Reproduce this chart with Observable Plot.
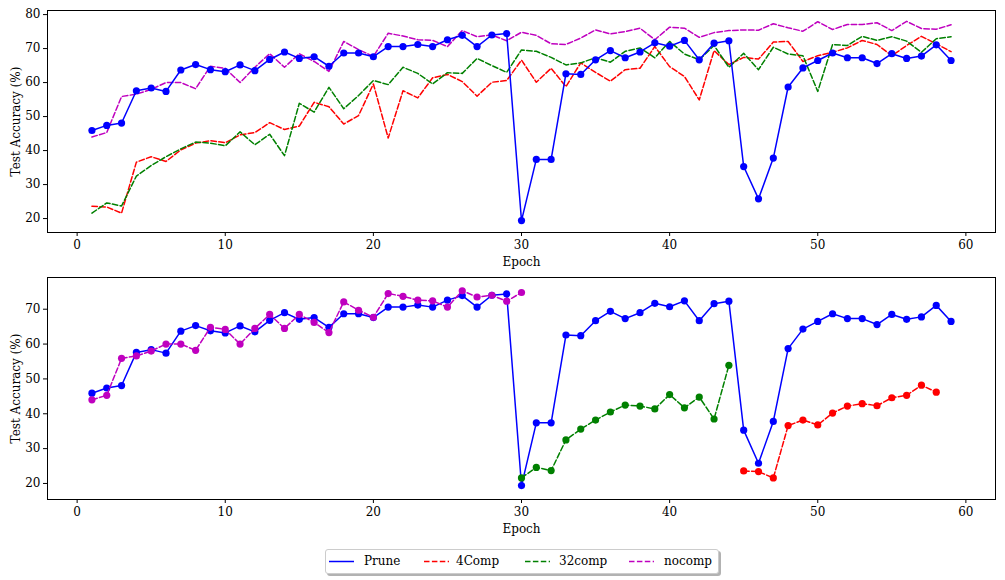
<!DOCTYPE html>
<html>
<head>
<meta charset="utf-8">
<script src="https://cdn.jsdelivr.net/npm/d3@7"></script>
<script src="https://cdn.jsdelivr.net/npm/@observablehq/plot@0.6"></script>
<style>
  body { margin: 0; background: #fff; }
  #wrap { position: relative; width: 1005px; height: 580px; font-family: "DejaVu Serif", serif; }
  .panel { position: absolute; left: 0; }
  #legend { position: absolute; left: 325px; top: 549px; width: 392px; height: 23px; background: #fff;
            border: 1px solid #cccccc; border-radius: 3px; box-shadow: 2px 2px 0 rgba(0,0,0,0.3); font-size: 12px; color: #000; }
  .li { position: absolute; top: 0; height: 23px; line-height: 23px; }
  .ls { position: absolute; top: 11px; }
</style>
</head>
<body>
<div id="wrap">
  <div id="top" class="panel" style="top:0px"></div>
  <div id="bottom" class="panel" style="top:267px"></div>
  <div id="legend"></div>
</div>
<script>
// ---- data ----
const epochs = [1,2,3,4,5,6,7,8,9,10,11,12,13,14,15,16,17,18,19,20,21,22,23,24,25,26,27,28,29,30,
                31,32,33,34,35,36,37,38,39,40,41,42,43,44,45,46,47,48,49,50,51,52,53,54,55,56,57,58,59];

const prune = [45.9,47.4,48.1,57.6,58.4,57.4,63.7,65.3,63.8,63.2,65.2,63.5,66.8,69.0,67.1,
               67.6,64.8,68.7,68.7,67.6,70.6,70.6,71.2,70.6,72.6,73.9,70.6,74.0,74.4,19.4,
               37.4,37.4,62.6,62.4,66.7,69.4,67.3,69.0,71.7,70.7,72.4,66.7,71.6,72.3,35.3,
               25.8,37.8,58.7,64.3,66.5,68.7,67.3,67.3,65.6,68.5,67.1,67.8,71.1,66.5];

const comp4 = [23.6,23.4,21.6,36.6,38.2,36.8,40.2,42.2,42.9,42.3,44.6,45.3,48.2,46.2,47.2,
               54.2,52.9,47.8,50.3,59.6,43.7,57.6,55.5,61.4,62.4,60.3,56.0,60.1,60.6,66.6,
               60.1,64.2,58.8,65.8,63.0,60.4,63.8,64.2,70.6,64.7,61.8,54.9,69.4,65.3,67.4,
               66.9,71.9,72.1,66.2,67.9,68.9,70.2,72.4,71.2,67.9,70.9,73.6,71.4,69.1];

const comp32 = [21.6,24.6,23.7,32.5,35.6,38.2,40.5,42.5,42.2,41.4,45.5,41.7,44.8,38.5,53.9,
                51.3,58.6,52.3,56.2,60.6,59.4,64.5,62.7,59.6,62.9,62.7,67.1,65.0,63.0,69.6,
                69.2,67.4,65.2,65.8,67.3,66.0,69.2,70.2,67.3,72.1,68.4,66.7,70.9,64.5,68.6,
                63.8,70.4,68.4,67.9,57.4,71.2,70.9,73.6,72.4,73.5,72.2,68.9,72.9,73.5];

const nocomp = [44.0,45.3,55.9,56.6,58.0,60.0,60.0,58.2,64.8,64.2,60.0,64.5,68.5,64.5,68.5,
                66.2,63.3,72.1,69.7,67.7,74.5,73.7,72.6,72.4,70.6,75.3,73.5,74.0,72.3,74.8,
                73.9,71.4,71.2,73.1,75.5,74.3,75.0,76.0,72.6,76.3,76.0,73.3,74.7,75.3,75.5,
                75.4,77.3,76.1,75.1,77.9,75.6,77.1,77.1,77.6,75.3,78.0,75.9,75.7,77.0];

// bottom panel: each compressed run placed after Prune's stages
const bottomNocompStart = 1, bottomNocompCount = 30;
const bottomComp32Start = 30, bottomComp32Count = 15;
const bottomComp4Start = 45, bottomComp4Count = 14;

const seriesNames = ["Prune", "4Comp", "32comp", "nocomp"];
const seriesColors = ["#0000ff", "#ff0000", "#008000", "#bf00bf"];
const xTicks = [0, 10, 20, 30, 40, 50, 60];
const yTicksTop = [20, 30, 40, 50, 60, 70, 80];
const yTicksBottom = [20, 30, 40, 50, 60, 70];

// ---- build ----
const rows = (vals, start) => vals.map((v, i) => ({epoch: epochs[i] + start - 1, value: v}));
const dash = "5.5,2.4";
const common = {
  width: 1005, height: 273, marginLeft: 47, marginRight: 10, marginTop: 10, marginBottom: 41,
  style: {fontFamily: "DejaVu Serif, serif", fontSize: "12px", background: "transparent", overflow: "visible"},
};

const xAxis = () => Plot.axisX({ticks: xTicks, tickSize: 4, tickPadding: 4, label: "Epoch",
  labelAnchor: "center", labelArrow: "none", labelOffset: 33});
const yAxis = (t) => Plot.axisY({ticks: t, tickSize: 4, tickPadding: 3, label: "Test Accuracy (%)",
  labelAnchor: "center", labelArrow: "none", labelOffset: 36});

const topPlot = Plot.plot({
  ...common,
  x: {domain: [-2.0, 62.0]},
  y: {domain: [15.9, 81.2]},
  marks: [
    Plot.line(rows(comp4, 1), {x: "epoch", y: "value", stroke: seriesColors[1], strokeWidth: 1.5, strokeDasharray: dash}),
    Plot.line(rows(comp32, 1), {x: "epoch", y: "value", stroke: seriesColors[2], strokeWidth: 1.5, strokeDasharray: dash}),
    Plot.line(rows(nocomp, 1), {x: "epoch", y: "value", stroke: seriesColors[3], strokeWidth: 1.5, strokeDasharray: dash}),
    Plot.line(rows(prune, 1), {x: "epoch", y: "value", stroke: seriesColors[0], strokeWidth: 1.5}),
    Plot.dot(rows(prune, 1), {x: "epoch", y: "value", fill: seriesColors[0], r: 3.6}),
    xAxis(), yAxis(yTicksTop),
    Plot.frame({stroke: "#000", strokeWidth: 1})
  ]
});

const bNo = rows(nocomp.slice(0, bottomNocompCount), bottomNocompStart);
const b32 = rows(comp32.slice(0, bottomComp32Count), bottomComp32Start);
const b4 = rows(comp4.slice(0, bottomComp4Count), bottomComp4Start);
const bottomPlot = Plot.plot({
  ...common,
  x: {domain: [-2.0, 62.0]},
  y: {domain: [15.4, 79.1]},
  marks: [
    Plot.line(prune.map((v, i) => ({epoch: epochs[i], value: v})), {x: "epoch", y: "value", stroke: seriesColors[0], strokeWidth: 1.5}),
    Plot.dot(prune.map((v, i) => ({epoch: epochs[i], value: v})), {x: "epoch", y: "value", fill: seriesColors[0], r: 3.6}),
    Plot.line(bNo, {x: "epoch", y: "value", stroke: seriesColors[3], strokeWidth: 1.5, strokeDasharray: dash}),
    Plot.dot(bNo, {x: "epoch", y: "value", fill: seriesColors[3], r: 3.6}),
    Plot.line(b32, {x: "epoch", y: "value", stroke: seriesColors[2], strokeWidth: 1.5, strokeDasharray: dash}),
    Plot.dot(b32, {x: "epoch", y: "value", fill: seriesColors[2], r: 3.6}),
    Plot.line(b4, {x: "epoch", y: "value", stroke: seriesColors[1], strokeWidth: 1.5, strokeDasharray: dash}),
    Plot.dot(b4, {x: "epoch", y: "value", fill: seriesColors[1], r: 3.6}),
    xAxis(), yAxis(yTicksBottom),
    Plot.frame({stroke: "#000", strokeWidth: 1})
  ]
});

document.getElementById("top").appendChild(topPlot);
document.getElementById("bottom").appendChild(bottomPlot);

// legend
const legend = document.getElementById("legend");
const lineX = [3, 98, 199, 303];
const textX = [38, 130, 233, 338];
seriesNames.forEach((name, i) => {
  const s = document.createElementNS("http://www.w3.org/2000/svg", "svg");
  s.setAttribute("width", 26); s.setAttribute("height", 3);
  s.setAttribute("class", "ls");
  s.style.left = lineX[i] + "px";
  s.style.top = "10px";
  const l = document.createElementNS("http://www.w3.org/2000/svg", "line");
  l.setAttribute("x1", 0); l.setAttribute("x2", 25); l.setAttribute("y1", 1.5); l.setAttribute("y2", 1.5);
  l.setAttribute("stroke", seriesColors[i]); l.setAttribute("stroke-width", 1.5);
  if (i > 0) l.setAttribute("stroke-dasharray", dash);
  s.appendChild(l);
  legend.appendChild(s);
  const t = document.createElement("div");
  t.className = "li"; t.style.left = textX[i] + "px"; t.textContent = name;
  legend.appendChild(t);
});
</script>
</body>
</html>
